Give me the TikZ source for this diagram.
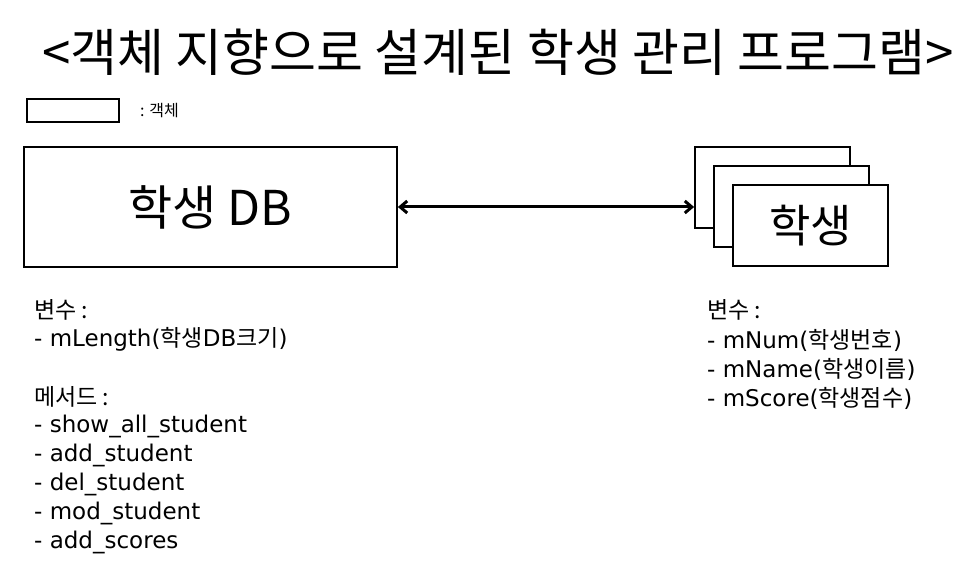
\documentclass[tikz,border=0pt]{standalone}
\usepackage{fontspec}
\setmainfont{Noto Sans CJK KR}
\newfontfamily\lat{DejaVu Sans}
\newcommand{\LT}[1]{{\lat\fontsize{23}{26}\selectfont #1}}
\usetikzlibrary{arrows.meta}
\tikzset{
  obj/.style={draw=black, line width=1.8pt, fill=white},
  txt/.style={anchor=west, inner sep=0pt, font=\fontsize{23}{26}\selectfont},
  tip/.style={arrows={Straight Barb[length=7pt,width=12pt]-Straight Barb[length=7pt,width=12pt]}},
}
\begin{document}
\begin{tikzpicture}[x=1pt,y=-1pt]
\useasboundingbox[fill=white] (0,0) rectangle (973,569);
% title
\node[inner sep=0pt, font=\fontsize{51}{56}\selectfont] (title) at (498,52) {<객체 지향으로 설계된 학생 관리 프로그램>};
% legend
\draw[obj, line width=1.5pt] (27,99) rectangle (119,122);
\node[anchor=west, inner sep=0pt, font=\fontsize{16}{18}\selectfont] (legtxt) at (140,111) {: 객체};
% DB box
\node[obj, minimum width=373pt, minimum height=120pt, inner sep=0pt, font=\fontsize{48}{54}\selectfont] (db) at (210.5,207) {학생 DB};
% student stack
\node[obj, minimum width=155pt, minimum height=81pt, inner sep=0pt] (s1) at (772.5,187.5) {};
\node[obj, minimum width=155pt, minimum height=81pt, inner sep=0pt] (s2) at (791.5,206.5) {};
\node[obj, minimum width=155pt, minimum height=81pt, inner sep=0pt, font=\fontsize{45}{50}\selectfont] (s3) at (810.5,225.5) {학생};
% arrow
\draw[tip, line width=3pt] (db.east) -- (db.east -| s1.west);
% left texts
\node[txt] (l1) at (34,310) {변수 :};
\node[txt] (l2) at (34,339) {\LT{- mLength(}학생\LT{DB}크기\LT{)}};
\node[txt] (l3) at (34,397) {메서드 :};
\node[txt] (l4) at (34,426) {\LT{- show\_all\_student}};
\node[txt] (l5) at (34,455) {\LT{- add\_student}};
\node[txt] (l6) at (34,484) {\LT{- del\_student}};
\node[txt] (l7) at (34,513) {\LT{- mod\_student}};
\node[txt] (l8) at (34,542) {\LT{- add\_scores}};
% right texts
\node[txt] (r1) at (707,310) {변수 :};
\node[txt] (r2) at (707,340) {\LT{- mNum(}학생번호\LT{)}};
\node[txt] (r3) at (707,369) {\LT{- mName(}학생이름\LT{)}};
\node[txt] (r4) at (707,398) {\LT{- mScore(}학생점수\LT{)}};
\end{tikzpicture}
\end{document}
